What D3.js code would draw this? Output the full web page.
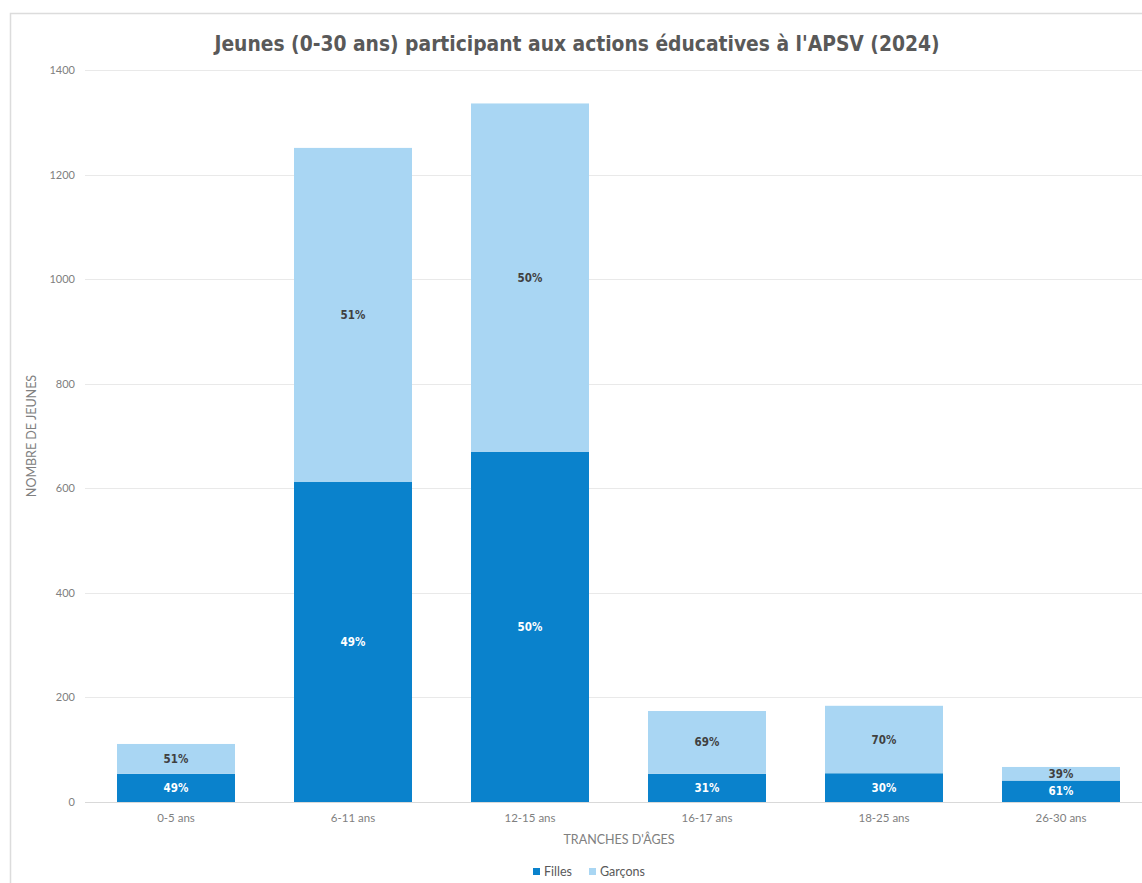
<!DOCTYPE html>
<html>
<head>
<meta charset="utf-8">
<script src="https://cdn.jsdelivr.net/npm/d3@7"></script>
<style>
  html, body { margin: 0; padding: 0; background: #ffffff; }
  svg { display: block; }
</style>
</head>
<body>
<svg id="chart" width="1142" height="883"></svg>
<script>
const categories = ["0-5 ans", "6-11 ans", "12-15 ans", "16-17 ans", "18-25 ans", "26-30 ans"];
const filles = [54, 612, 670, 54, 55, 41];
const garcons = [57, 639, 666, 120, 129, 26];
const fillesLabels = ["49%", "49%", "50%", "31%", "30%", "61%"];
const garconsLabels = ["51%", "51%", "50%", "69%", "70%", "39%"];
const yTicks = [0, 200, 400, 600, 800, 1000, 1200, 1400];
const seriesNames = ["Filles", "Garçons"];
const title = "Jeunes (0-30 ans) participant aux actions éducatives à l'APSV (2024)";
const xTitle = "TRANCHES D'ÂGES";
const yTitle = "NOMBRE DE JEUNES";

const colors = { Filles: "#0a82cc", "Garçons": "#a9d6f3" };
const svg = d3.select("#chart");

// outer frame
svg.append("rect").attr("x", 10.5).attr("y", 13.5).attr("width", 1200).attr("height", 1000)
  .attr("fill", "#ffffff").attr("stroke", "#dcdcdc").attr("stroke-width", 1.5);

const x = d3.scaleBand().domain(categories).range([87.5, 1149.5]).paddingInner(1/3).paddingOuter(1/6);
const y = d3.scaleLinear().domain([0, 1400]).range([802, 70]);

// gridlines
svg.append("g").selectAll("line").data(yTicks).join("line")
  .attr("x1", 85).attr("x2", 1142)
  .attr("y1", d => Math.round(y(d)) + 0.5).attr("y2", d => Math.round(y(d)) + 0.5)
  .attr("stroke", d => d === 0 ? "#d9d9d9" : "#e9e9e9").attr("stroke-width", 1);

const smallFont = "Lato, 'Open Sans', sans-serif";

// y axis tick labels
const yAxis = d3.axisLeft(y).tickValues(yTicks).tickSize(0).tickPadding(0).tickFormat(d3.format("d"));
const yg = svg.append("g").attr("transform", "translate(75,0)").call(yAxis);
yg.select(".domain").remove();
yg.selectAll("text").attr("font-family", smallFont).attr("font-size", 11).attr("fill", "#808080");

// x axis tick labels
const xAxis = d3.axisBottom(x).tickSize(0).tickPadding(0);
const xg = svg.append("g").attr("transform", "translate(0,814)").call(xAxis);
xg.select(".domain").remove();
xg.selectAll("text").attr("font-family", smallFont).attr("font-size", 11.5).attr("fill", "#808080");

// stacked data
const data = categories.map((c, i) => ({ cat: c, Filles: filles[i], "Garçons": garcons[i], fl: fillesLabels[i], gl: garconsLabels[i] }));
const stack = d3.stack().keys(seriesNames)(data);

const layers = svg.append("g").selectAll("g").data(stack).join("g").attr("fill", d => colors[d.key]);
layers.selectAll("rect").data(d => d).join("rect")
  .attr("x", d => x(d.data.cat))
  .attr("width", x.bandwidth())
  .attr("y", d => y(d[1]))
  .attr("height", d => y(d[0]) - y(d[1]));

// segment labels
stack.forEach(layer => {
  svg.append("g").selectAll("text").data(layer).join("text")
    .attr("x", d => x(d.data.cat) + x.bandwidth() / 2)
    .attr("y", d => (y(d[0]) + y(d[1])) / 2)
    .attr("dy", "0.35em")
    .attr("text-anchor", "middle")
    .attr("font-family", "'DejaVu Sans Condensed', 'DejaVu Sans', sans-serif")
    .attr("font-weight", "bold")
    .attr("font-size", 11.5)
    .attr("fill", layer.key === "Filles" ? "#ffffff" : "#404040")
    .text(d => layer.key === "Filles" ? d.data.fl : d.data.gl);
});

// title
svg.append("text").attr("x", 577).attr("y", 51).attr("text-anchor", "middle")
  .attr("font-family", "'DejaVu Sans Condensed', 'DejaVu Sans', sans-serif")
  .attr("font-weight", "bold").attr("font-size", 20.8).attr("fill", "#595959")
  .text(title);

// axis titles
svg.append("text").attr("x", 619).attr("y", 844).attr("text-anchor", "middle")
  .attr("font-family", smallFont).attr("font-size", 12.5).attr("fill", "#808080")
  .text(xTitle);
svg.append("text").attr("transform", "translate(36,436) rotate(-90)").attr("text-anchor", "middle")
  .attr("font-family", smallFont).attr("font-size", 12.5).attr("fill", "#808080")
  .text(yTitle);

// legend
const legend = svg.append("g").attr("transform", "translate(533,872)");
const items = legend.selectAll("g").data(seriesNames).join("g")
  .attr("transform", (d, i) => `translate(${i === 0 ? 0 : 56},0)`);
items.append("rect").attr("x", 0).attr("y", -4).attr("width", 7).attr("height", 7).attr("fill", d => colors[d]);
items.append("text").attr("x", 11).attr("y", 0).attr("dy", "0.35em")
  .attr("font-family", smallFont).attr("font-size", 12.5).attr("fill", "#595959")
  .text(d => d);
</script>
</body>
</html>
